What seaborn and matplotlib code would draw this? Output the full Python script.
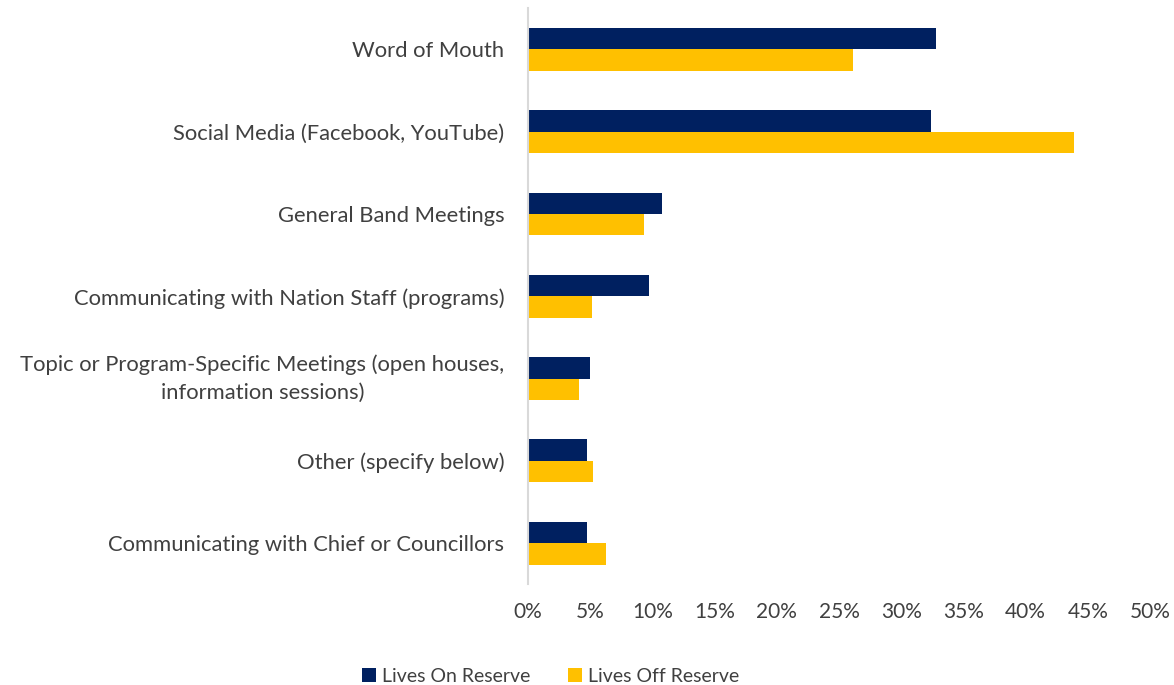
import matplotlib
matplotlib.use("Agg")
import matplotlib.pyplot as plt
from matplotlib.ticker import FuncFormatter, MultipleLocator
import pandas as pd
import seaborn as sns

categories = [
    "Word of Mouth",
    "Social Media (Facebook, YouTube)",
    "General Band Meetings",
    "Communicating with Nation Staff (programs)",
    "Topic or Program-Specific Meetings (open houses,\ninformation sessions)",
    "Other (specify below)",
    "Communicating with Chief or Councillors",
]
series_names = ["Lives On Reserve", "Lives Off Reserve"]
on_reserve = [32.8, 32.4, 10.8, 9.75, 5.0, 4.7, 4.7]
off_reserve = [26.1, 43.9, 9.35, 5.15, 4.1, 5.2, 6.3]
x_ticks = [0, 5, 10, 15, 20, 25, 30, 35, 40, 45, 50]

colors = ["#002060", "#FFC000"]
text_color = "#404040"

df = pd.DataFrame({
    "category": categories * 2,
    "group": [series_names[0]] * len(categories) + [series_names[1]] * len(categories),
    "value": on_reserve + off_reserve,
})

sns.set_theme(style="white")
plt.rcParams["font.family"] = ["Lato", "DejaVu Sans"]

fig = plt.figure(figsize=(11.74, 6.85), dpi=100)
ax = fig.add_axes([0.4498, 0.147, 0.9796 - 0.4498, 0.988 - 0.147])

sns.barplot(
    data=df, y="category", x="value", hue="group", order=categories,
    hue_order=series_names, palette=colors, orient="h", width=0.52,
    saturation=1, linewidth=0, ax=ax, legend=True,
)

ax.set_xlim(x_ticks[0], x_ticks[-1])
ax.set_ylim(len(categories) - 0.5, -0.5)
ax.xaxis.set_major_locator(MultipleLocator(5))
ax.xaxis.set_major_formatter(FuncFormatter(lambda v, _: f"{v:.0f}%"))
ax.set_xlabel("")
ax.set_ylabel("")

for side in ["top", "right", "bottom"]:
    ax.spines[side].set_visible(False)
ax.spines["left"].set_color("#d9d9d9")
ax.spines["left"].set_linewidth(1.5)

ax.tick_params(axis="y", length=0, pad=17, labelsize=15.8, labelcolor=text_color)
ax.tick_params(axis="x", length=0, pad=13, labelsize=15, labelcolor=text_color)
for lbl in ax.get_yticklabels():
    lbl.set_multialignment("center")
    lbl.set_linespacing(1.45)
    if "\n" in lbl.get_text():
        lbl.set_verticalalignment("center")

ax.get_legend().remove()
handles, labels = ax.get_legend_handles_labels()
fig.legend(
    handles, labels, loc="center", bbox_to_anchor=(0.469, 0.013), ncol=2,
    frameon=False, fontsize=14, labelcolor=text_color, handlelength=0.75,
    handleheight=0.75, handletextpad=0.3, columnspacing=1.9,
)

fig.savefig("out.png", dpi=100)
